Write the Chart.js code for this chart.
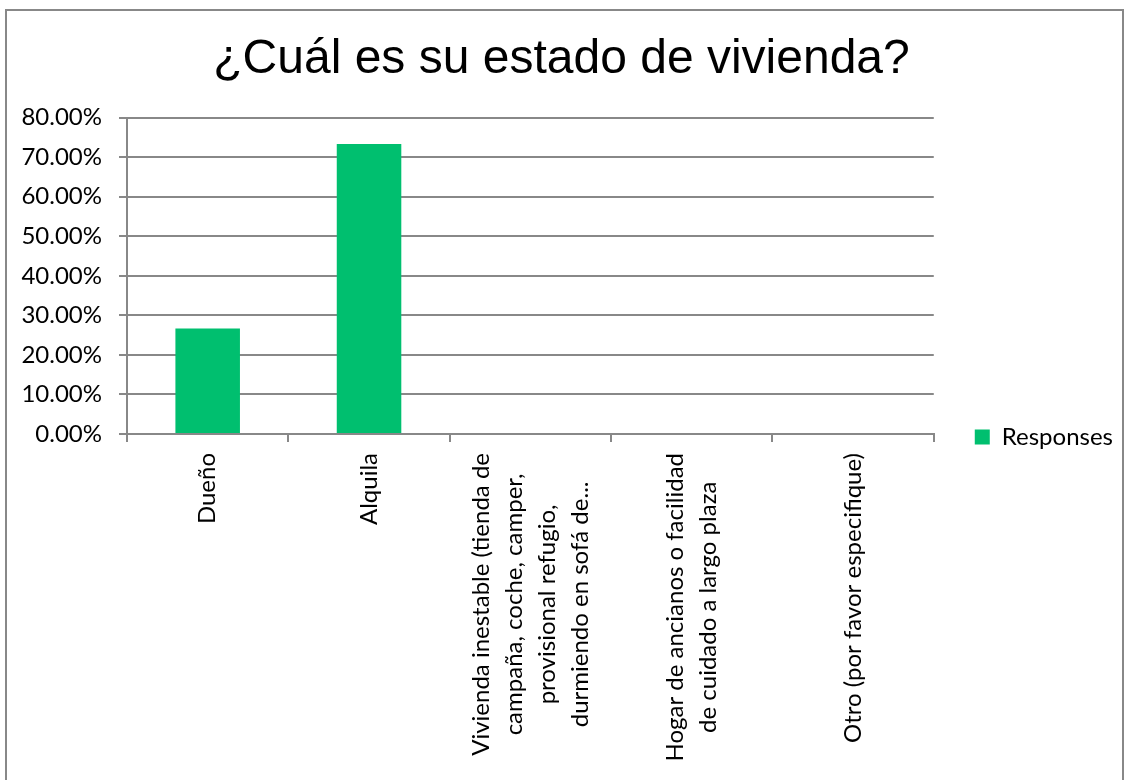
<!DOCTYPE html>
<html>
<head>
<meta charset="utf-8">
<script src="https://cdn.jsdelivr.net/npm/chart.js@4.4.1/dist/chart.umd.min.js"></script>
<style>
  html, body { margin: 0; padding: 0; background: #fff; overflow: hidden; }
  body { width: 1127px; height: 780px; position: relative; }
  #wrap { position: absolute; left: 0; top: 0; width: 1127px; height: 874px; }
  #frame {
    position: absolute; left: 5px; top: 9px; width: 1119px; height: 900px;
    border: 2px solid #888; box-sizing: border-box; pointer-events: none;
  }
</style>
</head>
<body>
<div id="wrap"><canvas id="chart" width="1127" height="874"></canvas></div>
<div id="frame"></div>
<script>
/* --------------------- DATA -------------------- */
const titleText = "¿Cuál es su estado de vivienda?";
const seriesName = "Responses";

// each category is split into the lines it is printed on
const categoryLines = [
  ["Dueño"],
  ["Alquila"],
  ["Vivienda inestable (tienda de", "campaña, coche, camper,", "provisional refugio,", "durmiendo en sofá de..."],
  ["Hogar de ancianos o facilidad", "de cuidado a largo plaza"],
  ["Otro (por favor especifique)"]
];
const responses = [26.67, 73.33, 0, 0, 0];

const yMin = 0;
const yMax = 80;
const yStep = 10;

/* --------------------- STYLE -------------------- */
const barColor = "#00bf6f";
const gridColor = "#888888";
const labelFont = { family: "Lato", size: 24 };

/* rotated, centre-aligned category labels under the x axis */
const xLabelPlugin = {
  id: "xLabels",
  afterDraw(chart) {
    const ctx = chart.ctx;
    const xs = chart.scales.x;
    ctx.save();
    ctx.font = labelFont.size + "px " + labelFont.family;
    ctx.fillStyle = "#000";
    ctx.textAlign = "center";
    ctx.textBaseline = "middle";
    categoryLines.forEach((lines, i) => {
      const cx = xs.getPixelForValue(i);
      const w = Math.max(...lines.map((l) => ctx.measureText(l).width));
      const cy = xs.top + 19 + w / 2;
      lines.forEach((line, j) => {
        const lx = cx + (j - (lines.length - 1) / 2) * 33;
        ctx.save();
        ctx.translate(lx, cy);
        ctx.rotate(-Math.PI / 2);
        ctx.fillText(line, 0, 0);
        ctx.restore();
      });
    });
    ctx.restore();
  }
};

function draw() {
  new Chart(document.getElementById("chart"), {
    type: "bar",
    data: {
      labels: categoryLines.map((l) => l.join(" ")),
      datasets: [{
        label: seriesName,
        data: responses,
        backgroundColor: barColor,
        barPercentage: 0.4,
        categoryPercentage: 1
      }]
    },
    options: {
      responsive: false,
      animation: false,
      layout: { padding: { left: 0, right: 4, top: 0, bottom: 0 } },
      plugins: {
        tooltip: { enabled: false },
        title: {
          display: true,
          text: titleText,
          color: "#000",
          font: { family: "Liberation Sans", size: 48, weight: "normal" },
          padding: { top: 31, bottom: 29 }
        },
        legend: {
          position: "right",
          labels: {
            boxWidth: 15,
            boxHeight: 15,
            padding: 41,
            color: "#000",
            font: labelFont
          }
        }
      },
      scales: {
        x: {
          ticks: { display: false },
          grid: { drawOnChartArea: false, drawTicks: true, tickLength: 8, color: gridColor, lineWidth: 2 },
          border: { color: gridColor, width: 2 },
          afterFit: (s) => { s.height = 440; }
        },
        y: {
          min: yMin,
          max: yMax,
          ticks: {
            stepSize: yStep,
            padding: 17,
            color: "#000",
            font: labelFont,
            callback: (v) => v.toFixed(2) + "%"
          },
          grid: { color: gridColor, lineWidth: 2, tickLength: 8 },
          border: { color: gridColor, width: 2 },
          afterFit: (s) => { s.width = 127; }
        }
      }
    },
    plugins: [xLabelPlugin]
  });
}

document.fonts.load("24px Lato").then(() => document.fonts.load("48px 'Liberation Sans'")).then(draw, draw);
</script>
</body>
</html>
